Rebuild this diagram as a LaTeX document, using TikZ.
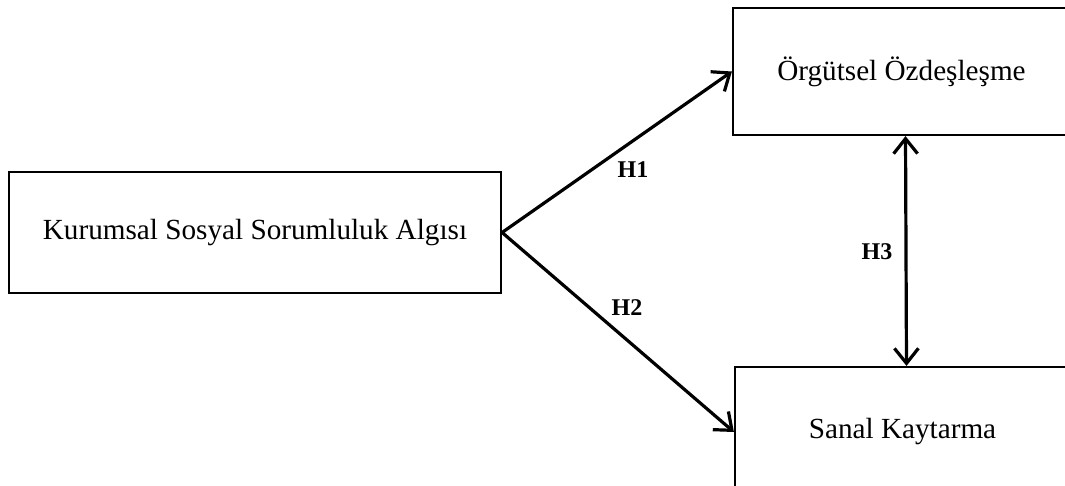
\documentclass[tikz,border=0pt]{standalone}
\usepackage{fontspec}
\setmainfont{Liberation Serif}
\usepackage{tikz}
\usetikzlibrary{arrows.meta}
\newcommand*{\boxh}{63.5pt}
\newcommand*{\boxlw}{1.1pt}

\begin{document}
\begin{tikzpicture}[
   x=0.5pt, y=-0.5pt,
   varbox/.style={rectangle, draw=black, line width=\boxlw, fill=white,
                  inner sep=0, minimum height=\boxh,
                  font=\fontsize{14.6}{17}\selectfont},
   hyplabel/.style={font=\fontsize{12}{14}\selectfont\bfseries},
   hyparrow/.style={line width=1.6pt, -{Straight Barb[length=7.5pt, width=12pt]}}
  ]

  \useasboundingbox (0, 0) rectangle (1065, 486);

  \node (ksa) at (255, 232.5) [varbox, minimum width=246pt, minimum height=60.5pt]
    {Kurumsal Sosyal Sorumluluk Algısı};
  \node (oo) at (901.5, 71.5) [varbox, minimum width=168.5pt]
    {Örgütsel Özdeşleşme};
  \node (sk) at (902.5, 432) [varbox, minimum width=167.5pt, minimum height=65pt]
    {Sanal Kaytarma};

  % Hypotheses
  \foreach \B/\E in {ksa/oo, ksa/sk} {
    \draw[hyparrow] (\B.east) -- (\E.west);
  }
  \draw[hyparrow, {Straight Barb[length=7.5pt, width=12pt]}-{Straight Barb[length=7.5pt, width=12pt]}]
    ([xshift=2pt]oo.south) -- ([xshift=2pt]sk.north);

  \node (h1) at (633, 170) [hyplabel] {H1};
  \node (h2) at (627, 308) [hyplabel] {H2};
  \node (h3) at (877, 252) [hyplabel] {H3};

\end{tikzpicture}
\end{document}
